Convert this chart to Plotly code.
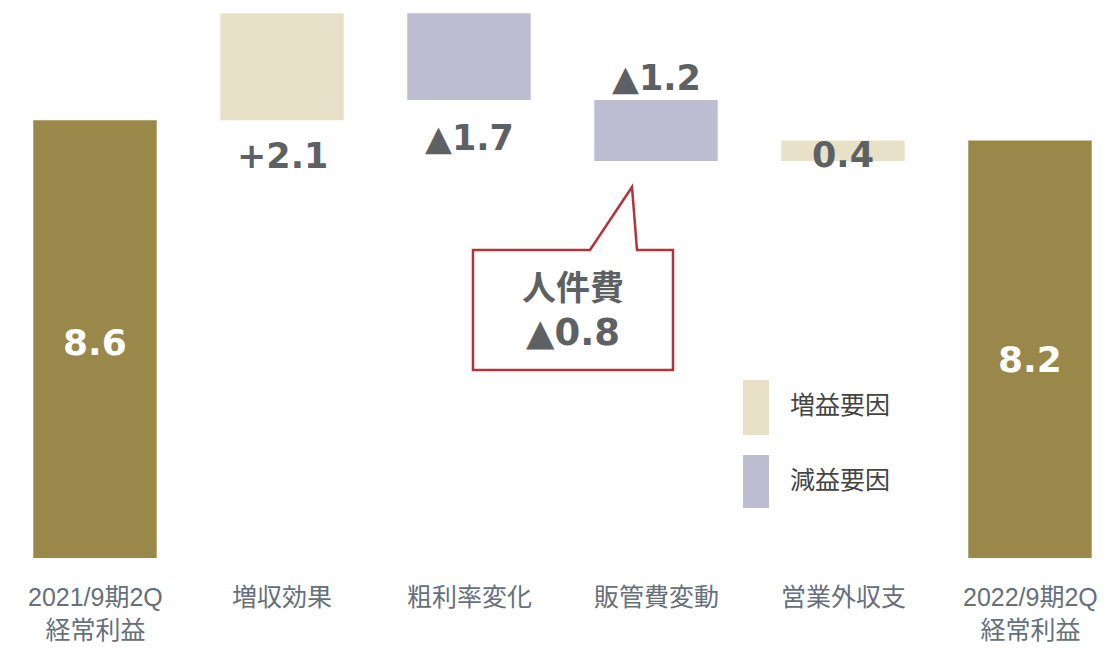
import plotly.graph_objects as go

categories = ["2021/9期2Q<br>経常利益", "増収効果", "粗利率変化", "販管費変動", "営業外収支", "2022/9期2Q<br>経常利益"]
measures = ["absolute", "relative", "relative", "relative", "relative", "total"]
values = [8.6, 2.1, -1.7, -1.2, 0.4, 8.2]
bar_labels = ["8.6", "+2.1", "▲1.7", "▲1.2", "0.4", "8.2"]
callout_lines = ["人件費", "▲0.8"]
legend_labels = ["増益要因", "減益要因"]

OLIVE = "#998849"
BEIGE = "#E8E1C7"
LAV = "#BDBED2"
TXT = "#5E6163"

OFF = 8  # page body margin
W, H = 1115 - OFF, 648 - OFF
ZERO_Y = 558  # target pixel of y=0
PLOT_H = ZERO_Y - OFF
MB = H - PLOT_H
PXU = 50.9  # pixels per unit
XU = 187.0  # pixels per category

fig = go.Figure()
fig.add_trace(go.Waterfall(
    x=list(range(len(categories))), measure=measures, y=values,
    width=0.66,
    increasing=dict(marker=dict(color=BEIGE)),
    decreasing=dict(marker=dict(color=LAV)),
    totals=dict(marker=dict(color=OLIVE)),
    connector=dict(visible=False),
    textposition="none", hoverinfo="skip", showlegend=False,
))

levels = []
cur = 0.0
for m, v in zip(measures, values):
    if m == "absolute":
        lo, hi = 0, v
        cur = v
    elif m == "total":
        lo, hi = 0, cur
    else:
        lo, hi = min(cur, cur + v), max(cur, cur + v)
        cur += v
    levels.append((lo, hi))

num_font = dict(family="DejaVu Sans", size=35, color=TXT)
anns = []
for i, off in ((0, -0.06), (5, -0.2)):
    lo, hi = levels[i]
    anns.append(dict(x=i, y=(lo + hi) / 2 + off, text="<b>%s</b>" % bar_labels[i],
                     showarrow=False, font=dict(family="DejaVu Sans", size=36, color="white")))
for i, ys in ((1, -14), (2, -16)):
    lo, hi = levels[i]
    anns.append(dict(x=i, y=lo, yanchor="top", yshift=ys, text="<b>%s</b>" % bar_labels[i],
                     showarrow=False, font=num_font))
lo, hi = levels[3]
anns.append(dict(x=3, y=hi, yanchor="bottom", yshift=0, text="<b>%s</b>" % bar_labels[3],
                 showarrow=False, font=num_font))
lo, hi = levels[4]
anns.append(dict(x=4, y=(lo + hi) / 2, yshift=-4, text="<b>%s</b>" % bar_labels[4],
                 showarrow=False, font=num_font))


def px(xp):
    return (xp - OFF) / W


def py(yp):
    return (PLOT_H - (yp - OFF)) / PLOT_H


pts = [(473, 250), (590, 250), (632, 187), (637, 250), (673, 250), (673, 370), (473, 370)]
path = "M " + " L ".join("%.5f %.5f" % (px(a), py(b)) for a, b in pts) + " Z"
shapes = [dict(type="path", xref="paper", yref="paper", path=path,
               line=dict(color="#B2333B", width=2.5), fillcolor="white")]
anns.append(dict(xref="paper", yref="paper", x=px(573), y=py(285), text="<b>%s</b>" % callout_lines[0],
                 showarrow=False, font=dict(family="Noto Sans CJK JP", size=34, color=TXT)))
anns.append(dict(xref="paper", yref="paper", x=px(573), y=py(333), text="<b>%s</b>" % callout_lines[1],
                 showarrow=False, font=dict(family="DejaVu Sans", size=37, color=TXT)))

for (y0, y1, col), lab, ty in zip([(380, 435, BEIGE), (455, 508, LAV)], legend_labels, [423, 498]):
    shapes.append(dict(type="rect", xref="paper", yref="paper", x0=px(743), x1=px(769),
                       y0=py(y1), y1=py(y0), fillcolor=col, line=dict(width=0)))
    anns.append(dict(xref="paper", yref="paper", x=px(788), y=py(ty), xanchor="left", text=lab,
                     showarrow=False, font=dict(family="Noto Sans CJK JP", size=25, color="#444444")))

# category labels
for i, cat in enumerate(categories):
    anns.append(dict(x=i, xref="x", yref="paper", y=py(581), yanchor="top", text=cat, showarrow=False,
                     font=dict(family="Liberation Sans, Noto Sans CJK JP", size=25, color="#66707A")))

fig.update_layout(
    width=W, height=H,
    margin=dict(l=0, r=0, t=0, b=MB),
    plot_bgcolor="white", paper_bgcolor="white",
    xaxis=dict(range=[-(95 - OFF) / XU, 5 + (1115 - 1030) / XU], showticklabels=False,
               showgrid=False, zeroline=False, showline=False, ticks=""),
    yaxis=dict(range=[0, PLOT_H / PXU], visible=False, showgrid=False),
    annotations=anns, shapes=shapes,
)

fig.write_html("out.html")
